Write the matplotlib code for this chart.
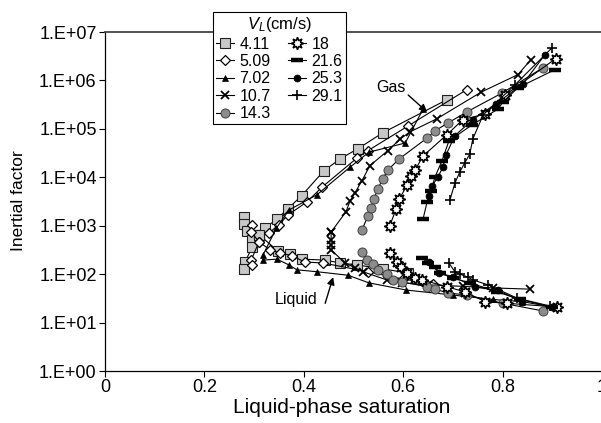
import matplotlib
matplotlib.use("Agg")
import matplotlib.pyplot as plt
from matplotlib.lines import Line2D
from matplotlib.ticker import FixedLocator, NullLocator

plt.rcParams['font.family'] = ['Liberation Sans', 'DejaVu Sans']
plt.rcParams['mathtext.fontset'] = 'custom'
plt.rcParams['mathtext.it'] = 'Liberation Sans:italic'
plt.rcParams['mathtext.rm'] = 'Liberation Sans'

# ---------------- data ----------------
LEGEND_LABELS = ["4.11", "5.09", "7.02", "10.7", "14.3", "18", "21.6", "25.3", "29.1"]
X_TICKS = [0, 0.2, 0.4, 0.6, 0.8, 1]
X_TICK_LABELS = ["0", "0.2", "0.4", "0.6", "0.8", "1"]
Y_TICKS = [1e0, 1e1, 1e2, 1e3, 1e4, 1e5, 1e6, 1e7]
Y_TICK_LABELS = ["1.E+00", "1.E+01", "1.E+02", "1.E+03", "1.E+04", "1.E+05", "1.E+06", "1.E+07"]

# VL = 4.11
s411_gas_x = [0.31, 0.322, 0.346, 0.368, 0.396, 0.44, 0.473, 0.509, 0.559, 0.688]
s411_gas_y = [650, 890, 1380, 2240, 4200, 13500, 24000, 39000, 83000, 400000]
s411_clu_x = [0.28, 0.28, 0.285, 0.31, 0.296, 0.296, 0.282, 0.28]
s411_clu_y = [1500, 1070, 760, 650, 510, 360, 180, 125]
s411_liq_x = [0.31, 0.348, 0.372, 0.396, 0.443, 0.473, 0.507, 0.559, 0.61]
s411_liq_y = [650, 300, 263, 204, 195, 170, 155, 129, 105]

# VL = 5.09
s509_gas_x = [0.33, 0.35, 0.368, 0.406, 0.437, 0.507, 0.529, 0.61, 0.728]
s509_gas_y = [710, 1050, 1660, 3090, 6300, 25000, 35500, 115000, 646000]
s509_clu_x = [0.296, 0.294, 0.31, 0.294, 0.296]
s509_clu_y = [1050, 740, 465, 195, 155]
s509_liq_x = [0.31, 0.332, 0.352, 0.376, 0.402, 0.439, 0.529, 0.60, 0.66]
s509_liq_y = [465, 316, 275, 240, 178, 170, 112, 79, 63]

# VL = 7.02
s702_gas_x = [0.318, 0.345, 0.370, 0.427, 0.493, 0.531, 0.604, 0.64]
s702_gas_y = [250, 900, 2100, 4400, 16200, 33000, 51000, 257000]
s702_liq_x = [0.318, 0.346, 0.370, 0.386, 0.427, 0.489, 0.531, 0.606, 0.70, 0.78, 0.84]
s702_liq_y = [195, 204, 155, 123, 112, 95, 66, 47, 37, 30, 27]

# VL = 10.7
s107_gas_x = [0.455, 0.485, 0.493, 0.503, 0.517, 0.533, 0.569, 0.594, 0.614, 0.668, 0.757, 0.831, 0.857]
s107_gas_y = [741, 1950, 3240, 4790, 8500, 17400, 35500, 61700, 87000, 162000, 575000, 1320000, 2690000]
s107_liq_x = [0.455, 0.455, 0.455, 0.455, 0.483, 0.503, 0.519, 0.567, 0.598, 0.65, 0.72, 0.78, 0.855]
s107_liq_y = [741, 513, 400, 316, 170, 135, 112, 76, 66, 60, 56, 52, 49]

# VL = 14.3
s143_gas_x = [0.517, 0.529, 0.535, 0.541, 0.549, 0.559, 0.569, 0.592, 0.648, 0.664, 0.690, 0.728, 0.799, 0.881]
s143_gas_y = [813, 1585, 2340, 3550, 5750, 9330, 14100, 24000, 64600, 91200, 132000, 224000, 550000, 1820000]
s143_liq_x = [0.517, 0.527, 0.539, 0.549, 0.567, 0.579, 0.598, 0.648, 0.664, 0.690, 0.728, 0.801, 0.881]
s143_liq_y = [288, 195, 162, 123, 100, 76, 69, 55, 49, 41, 37, 25, 17.4]

# VL = 18
s18_gas_x = [0.573, 0.586, 0.592, 0.608, 0.616, 0.624, 0.640, 0.688, 0.720, 0.765, 0.805, 0.907]
s18_gas_y = [1000, 2240, 3550, 6900, 10700, 14100, 27500, 75900, 155000, 204000, 501000, 2820000]
s18_liq_x = [0.573, 0.588, 0.596, 0.608, 0.624, 0.638, 0.688, 0.724, 0.765, 0.809, 0.909]
s18_liq_y = [275, 178, 141, 105, 83, 76, 55, 43, 27, 25, 21]

# VL = 21.6
s216_gas_x = [0.640, 0.648, 0.656, 0.664, 0.678, 0.692, 0.738, 0.791, 0.801, 0.831, 0.905]
s216_gas_y = [1380, 3090, 5250, 10200, 21900, 56200, 120000, 257000, 363000, 708000, 1660000]
s216_liq_x = [0.638, 0.650, 0.664, 0.674, 0.700, 0.734, 0.789, 0.835, 0.899]
s216_liq_y = [214, 170, 141, 105, 83, 66, 43, 30, 21]

# VL = 25.3
s253_gas_x = [0.652, 0.658, 0.670, 0.680, 0.686, 0.704, 0.740, 0.787, 0.841, 0.885]
s253_gas_y = [4170, 6600, 10200, 16200, 28800, 72400, 155000, 331000, 851000, 3390000]
s253_liq_x = [0.652, 0.672, 0.70, 0.745, 0.79, 0.84, 0.90]
s253_liq_y = [178, 105, 89, 54, 46, 27, 21]

# VL = 29.1
s291_gas_x = [0.694, 0.704, 0.714, 0.724, 0.734, 0.740, 0.761, 0.825, 0.899]
s291_gas_y = [3390, 7590, 12900, 20000, 30200, 61700, 195000, 813000, 4680000]
s291_liq_x = [0.692, 0.704, 0.714, 0.730, 0.740, 0.771, 0.829, 0.895]
s291_liq_y = [170, 112, 100, 87, 76, 60, 32, 22]

# annotation anchors (data coordinates)
GAS_TEXT = (0.575, 7.1e5)
GAS_ARROW_TAIL = (0.61, 5.0e5)
GAS_ARROW_HEAD = (0.648, 2.24e5)
LIQ_TEXT = (0.384, 29.5)
LIQ_ARROW_TAIL = (0.443, 25)
LIQ_ARROW_HEAD = (0.459, 87)

# ---------------- styles ----------------
STYLES = [
    dict(marker='s', ms=6.5, mfc='#c8c8c8', mec='#202020', mew=0.8),
    dict(marker='D', ms=5.5, mfc='white', mec='black', mew=0.9),
    dict(marker='^', ms=5, mfc='black', mec='black', mew=0.5),
    dict(marker='x', ms=6, mfc='black', mec='black', mew=1.3),
    dict(marker='o', ms=6.5, mfc='#8c8c8c', mec='#404040', mew=0.7),
    dict(marker=(8, 1, 0), ms=9, mfc='white', mec='black', mew=1.1),
    dict(marker='_', ms=8, mfc='black', mec='black', mew=3.2),
    dict(marker='o', ms=5, mfc='black', mec='black', mew=0.5),
    dict(marker='+', ms=7, mfc='black', mec='black', mew=1.2),
]

SERIES = [
    [(s411_clu_x, s411_clu_y), (s411_gas_x, s411_gas_y), (s411_liq_x, s411_liq_y)],
    [(s509_clu_x, s509_clu_y), (s509_gas_x, s509_gas_y), (s509_liq_x, s509_liq_y)],
    [(s702_gas_x, s702_gas_y), (s702_liq_x, s702_liq_y)],
    [(s107_gas_x, s107_gas_y), (s107_liq_x, s107_liq_y)],
    [(s143_gas_x, s143_gas_y), (s143_liq_x, s143_liq_y)],
    [(s18_gas_x, s18_gas_y), (s18_liq_x, s18_liq_y)],
    [(s216_gas_x, s216_gas_y), (s216_liq_x, s216_liq_y)],
    [(s253_gas_x, s253_gas_y), (s253_liq_x, s253_liq_y)],
    [(s291_gas_x, s291_gas_y), (s291_liq_x, s291_liq_y)],
]

fig = plt.figure(figsize=(6.01, 4.23), dpi=100)
ax = fig.add_axes([105 / 601, 1 - 371 / 423, 497 / 601, 339 / 423])

handles = []
for style, parts, lab in zip(STYLES, SERIES, LEGEND_LABELS):
    for (xs, ys) in parts:
        ax.plot(xs, ys, color='black', lw=0.8, **style)
    handles.append(Line2D([], [], color='black', lw=0.8, **style))

ax.set_yscale('log')
ax.set_xlim(0, 1)
ax.set_ylim(1, 1e7)
ax.xaxis.set_major_locator(FixedLocator(X_TICKS))
ax.set_xticklabels(X_TICK_LABELS)
ax.yaxis.set_major_locator(FixedLocator(Y_TICKS))
ax.yaxis.set_minor_locator(NullLocator())
ax.set_yticklabels(Y_TICK_LABELS)
ax.tick_params(axis='both', labelsize=13, length=4, width=0.8, direction='out', pad=2)

ax.spines['right'].set_visible(False)
ax.spines['top'].set_color('#444444')
ax.spines['top'].set_linewidth(1.3)
for s in ('left', 'bottom'):
    ax.spines[s].set_linewidth(0.9)

ax.set_xlabel('Liquid-phase saturation', fontsize=15)
ax.xaxis.set_label_coords(237 / 497, -27 / 339)
ax.set_ylabel('Inertial factor', fontsize=12.5)
ax.yaxis.set_label_coords(-79 / 497, 0.504)

# annotations
ax.text(*GAS_TEXT, 'Gas', fontsize=11.5, ha='center', va='center')
ax.annotate('', xy=GAS_ARROW_HEAD, xytext=GAS_ARROW_TAIL,
            arrowprops=dict(arrowstyle='-|>', color='black', lw=1.0,
                            mutation_scale=11, shrinkA=0, shrinkB=0))
ax.text(*LIQ_TEXT, 'Liquid', fontsize=11.5, ha='center', va='center')
ax.annotate('', xy=LIQ_ARROW_HEAD, xytext=LIQ_ARROW_TAIL,
            arrowprops=dict(arrowstyle='-|>', color='black', lw=1.0,
                            mutation_scale=11, shrinkA=0, shrinkB=0))

leg = ax.legend(handles, LEGEND_LABELS, ncol=2, title=r'$V_L$(cm/s)',
                loc='upper left', bbox_to_anchor=(213 / 601, 1 - 12 / 423),
                bbox_transform=fig.transFigure, borderaxespad=0,
                fontsize=11.5, title_fontsize=12, frameon=True, fancybox=False,
                framealpha=1, edgecolor='black', handlelength=1.1,
                handletextpad=0.35, columnspacing=1.1, labelspacing=0.15,
                borderpad=0.2)
leg.get_frame().set_linewidth(0.8)

fig.savefig('out.png', dpi=100)
